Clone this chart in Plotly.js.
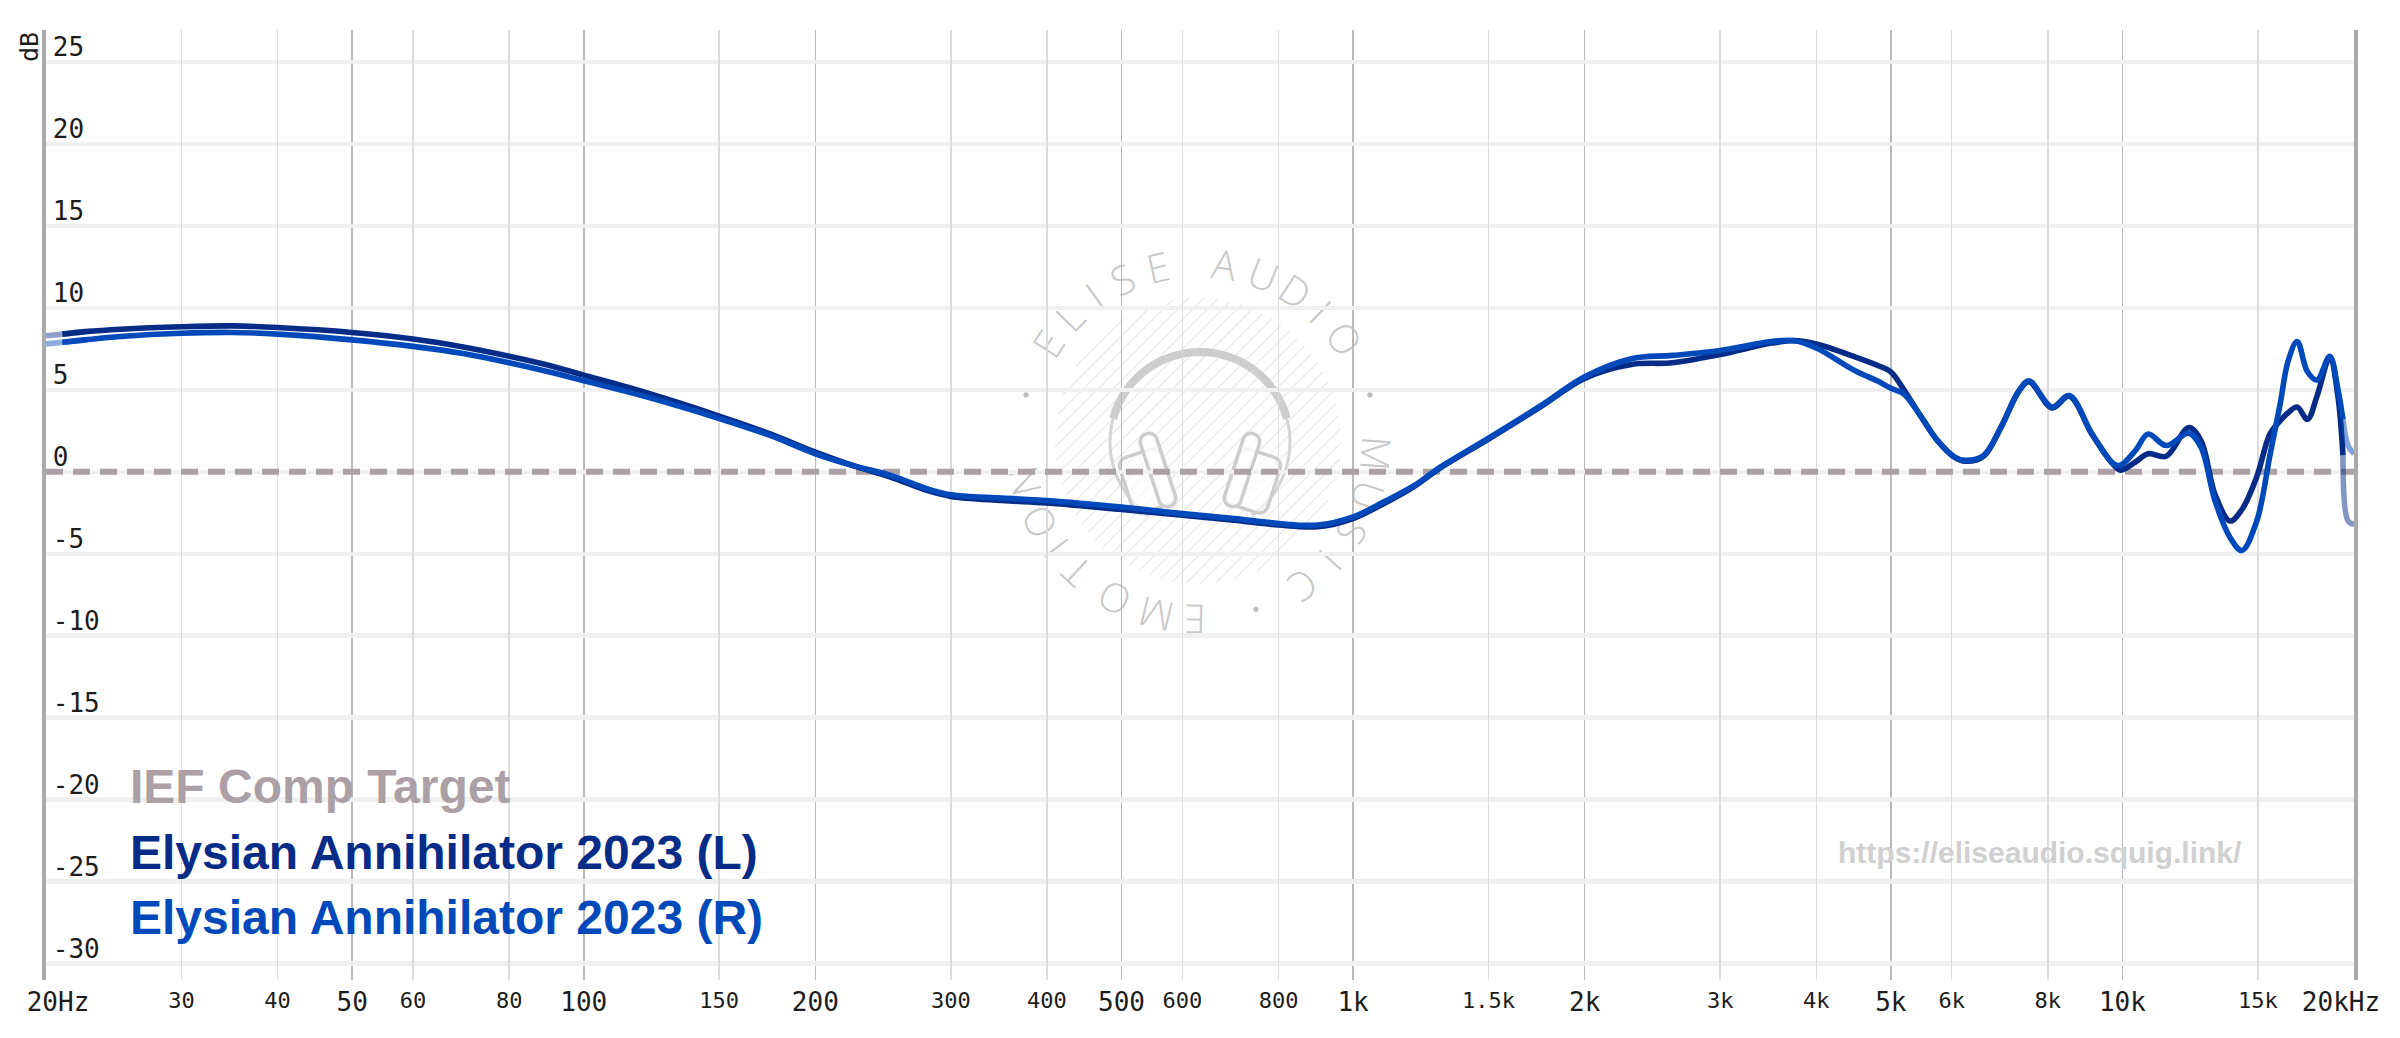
<!DOCTYPE html>
<html><head><meta charset="utf-8">
<script src="https://cdn.plot.ly/plotly-3.0.1.min.js"></script>
<style>html,body{margin:0;padding:0;background:#fff}#chart{width:2400px;height:1038px}</style>
</head><body><div id="chart"></div>
<script>
// ---------- data ----------
const freq = [20, 21, 22.5, 25, 30, 35, 40, 50, 60, 70, 80, 90, 100, 120, 150, 175, 200, 225, 250, 280, 300, 350, 400, 500, 600, 700, 800, 900, 1000, 1100, 1200, 1300, 1500, 1750, 2000, 2300, 2600, 3000, 3500, 3750, 4000, 4500, 4800, 5000, 5200, 5450, 5750, 6050, 6250, 6600, 6950, 7330, 7560, 8100, 8530, 9130, 9730, 9940, 10400, 10800, 11400, 12200, 12650, 13200, 13800, 14300, 14950, 15550, 16030, 16420, 16870, 17400, 17900, 18600, 19050, 19350, 19650, 20000];
const leftDb = [8.3, 8.4, 8.55, 8.7, 8.85, 8.9, 8.8, 8.5, 8.1, 7.6, 7.05, 6.5, 5.9, 4.85, 3.4, 2.3, 1.2, 0.35, -0.3, -1.15, -1.5, -1.75, -1.9, -2.3, -2.65, -2.95, -3.25, -3.35, -2.85, -1.9, -0.9, 0.25, 2.0, 3.95, 5.7, 6.55, 6.65, 7.15, 7.85, 8.0, 7.8, 7.0, 6.5, 6.1, 5.0, 3.5, 1.9, 0.9, 0.65, 0.95, 2.7, 4.9, 5.5, 3.9, 4.6, 2.3, 0.45, 0.1, 0.6, 1.1, 0.95, 2.7, 1.9, -1.4, -3.0, -2.3, -0.3, 2.3, 3.1, 3.6, 3.95, 3.2, 4.6, 6.95, 4.7, 1.0, -3.0, -3.2];
const rightDb = [7.8, 7.9, 8.05, 8.25, 8.45, 8.5, 8.4, 8.05, 7.65, 7.2, 6.65, 6.1, 5.55, 4.6, 3.25, 2.2, 1.1, 0.35, -0.2, -1.05, -1.4, -1.6, -1.75, -2.15, -2.55, -2.85, -3.15, -3.25, -2.75, -1.8, -0.85, 0.3, 2.05, 4.0, 5.8, 6.9, 7.1, 7.4, 7.95, 8.0, 7.55, 6.15, 5.55, 5.1, 4.75, 3.5, 1.9, 0.9, 0.7, 1.0, 2.7, 4.9, 5.55, 3.95, 4.65, 2.3, 0.5, 0.4, 1.3, 2.3, 1.6, 2.35, 1.5, -1.8, -4.0, -4.8, -3.0, 1.0, 4.1, 6.75, 7.95, 6.1, 5.6, 7.05, 5.1, 3.2, 1.6, 1.1];
const targetFreq = [20, 20000];
const targetDb = [0, 0];
const seriesNames = ['IEF Comp Target', 'Elysian Annihilator 2023 (L)', 'Elysian Annihilator 2023 (R)'];
const seriesColors = ['#aaa0a5', '#062c88', '#0049bb'];
const majorTicks = [50, 100, 200, 500, 1000, 2000, 5000, 10000];
const majorLabels = ['50', '100', '200', '500', '1k', '2k', '5k', '10k'];
const minorTicks = [30, 40, 60, 80, 150, 300, 400, 600, 800, 1500, 3000, 4000, 6000, 8000, 15000];
const minorLabels = ['30', '40', '60', '80', '150', '300', '400', '600', '800', '1.5k', '3k', '4k', '6k', '8k', '15k'];
const startTick = [20], startLabel = ['20Hz'];
const endTick = [20000], endLabel = ['20kHz'];
const yTicks = [-30, -25, -20, -15, -10, -5, 0, 5, 10, 15, 20, 25];
const yLabels = ['-30', '-25', '-20', '-15', '-10', '-5', '0', '5', '10', '15', '20', '25'];
const yTitle = 'dB';
const siteText = 'https://eliseaudio.squig.link/';
const ringText = ['E','L','I','S','E','A','U','D','I','O','M','U','S','I','C','E','M','O','T','I','O','N'];

// ---------- geometry helpers (pixel -> paper) ----------
const L0 = 46, R0 = 2354, T0 = 30, B0 = 980;
const PW = R0 - L0, PH = B0 - T0;
const px = x => (x - L0) / PW, py = y => (B0 - y) / PH;
function pathFrom(points, close) {
  return 'M' + points.map(p => px(p[0]).toFixed(5) + ',' + py(p[1]).toFixed(5)).join('L') + (close ? 'Z' : '');
}
function arcPts(cx, cy, r, a0, a1, step) {
  const pts = [];
  for (let a = a0; a <= a1 + 1e-9; a += step) { const t = a * Math.PI / 180; pts.push([cx + r * Math.sin(t), cy - r * Math.cos(t)]); }
  return pts;
}
function roundRect(cx, cy, w, h, r, phi) {
  const pts = [];
  const c = [[w/2-r, -h/2+r, -90, 0], [w/2-r, h/2-r, 0, 90], [-w/2+r, h/2-r, 90, 180], [-w/2+r, -h/2+r, 180, 270]];
  for (const [ux, uy, a0, a1] of c) for (let a = a0; a <= a1; a += 15) { const t = a * Math.PI / 180; pts.push([ux + r * Math.cos(t), uy + r * Math.sin(t)]); }
  const f = phi * Math.PI / 180;
  return pts.map(([u, v]) => [cx + u * Math.cos(f) - v * Math.sin(f), cy + u * Math.sin(f) + v * Math.cos(f)]);
}

// ---------- watermark ----------
const WM = '#c8c8c8';
const wcx = 1198, wcy = 441;
const shapes = [];
const HR = 143, HS = 10.5;
for (let d = -HR + 4; d < HR; d += HS) {
  const h = Math.sqrt(HR * HR - d * d), s = Math.SQRT1_2;
  const mx = wcx + d * s, my = wcy + d * s;
  shapes.push({type: 'path', xref: 'paper', yref: 'paper', layer: 'between',
    path: pathFrom([[mx - h * s, my + h * s], [mx + h * s, my - h * s]]), line: {color: '#ebebeb', width: 1.3}});
}
shapes.push({type: 'path', xref: 'paper', yref: 'paper', layer: 'between', path: pathFrom(arcPts(1200, 442, 90, -75, 75, 5)), line: {color: '#cdcdcd', width: 8}});
shapes.push({type: 'path', xref: 'paper', yref: 'paper', layer: 'between', path: pathFrom(arcPts(1200, 442, 90, 75, 145, 5)), line: {color: '#d4d4d4', width: 3}});
shapes.push({type: 'path', xref: 'paper', yref: 'paper', layer: 'between', path: pathFrom(arcPts(1200, 442, 90, -145, -75, 5)), line: {color: '#d4d4d4', width: 3}});
[[-1, -18], [1, 18]].forEach(([sgn, phi]) => {
  shapes.push({type: 'path', xref: 'paper', yref: 'paper', layer: 'between', path: pathFrom(roundRect(1200 + sgn * 53, 481, 44, 58, 9, phi), true), line: {color: '#cdcdcd', width: 3.5}, fillcolor: 'rgba(255,255,255,0.6)'});
  shapes.push({type: 'path', xref: 'paper', yref: 'paper', layer: 'between', path: pathFrom(roundRect(1200 + sgn * 42, 470, 17, 76, 8, phi), true), line: {color: '#cdcdcd', width: 3.5}, fillcolor: 'rgba(255,255,255,0.8)'});
});
const ringAngles = [-57, -46, -35.5, -25, -13, 8.5, 21.5, 33, 43.5, 55, 94, 108, 120.5, 132, 144, 181, 193.5, 208, 223, 233, 243, 257];
const RR = 176;
ringText.forEach((ch, i) => {
  const t = ringAngles[i] * Math.PI / 180;
  const x = wcx + RR * Math.sin(t), y = wcy - RR * Math.cos(t);
  shapes.push({type: 'rect', xref: 'paper', yref: 'paper', layer: 'between',
    x0: px(x) - 0.0003, x1: px(x) + 0.0003, y0: py(y) - 0.0007, y1: py(y) + 0.0007,
    line: {width: 0}, fillcolor: 'rgba(0,0,0,0)',
    label: {text: ch, textangle: ringAngles[i], textposition: 'middle center', padding: 0,
      font: {family: 'Open Sans', size: 40, weight: 300, color: WM}}});
});
[75, 161, 285].forEach(a => {
  const t = a * Math.PI / 180;
  const x = wcx + 178 * Math.sin(t), y = wcy - 178 * Math.cos(t);
  shapes.push({type: 'circle', xref: 'paper', yref: 'paper', layer: 'between',
    x0: px(x - 2.6), x1: px(x + 2.6), y0: py(y + 2.6), y1: py(y - 2.6), line: {width: 0}, fillcolor: '#bdbdbd'});
});

// ---------- traces ----------
const n = freq.length;
const lineW = 5.6;
function seg(y, a, b, color, op) {
  return {x: freq.slice(a, b), y: y.slice(a, b), type: 'scatter', mode: 'lines', opacity: op,
    line: {color: color, width: lineW, shape: 'spline', smoothing: 1}, hoverinfo: 'skip', xaxis: 'x', yaxis: 'y'};
}
const traces = [
  {x: targetFreq, y: targetDb, type: 'scatter', mode: 'lines', name: seriesNames[0],
   line: {color: seriesColors[0], width: 6, dash: '17px,10px'}, hoverinfo: 'skip'},
  seg(leftDb, 1, n - 2, seriesColors[1], 1),
  seg(leftDb, 0, 3, seriesColors[1], 0.45),
  seg(leftDb, n - 3, n, seriesColors[1], 0.5),
  seg(rightDb, 1, n - 2, seriesColors[2], 1),
  seg(rightDb, 0, 3, seriesColors[2], 0.45),
  seg(rightDb, n - 3, n, seriesColors[2], 0.5)
];

// ---------- layout ----------
const xr = [Math.log10(20) - 1e-5, Math.log10(20000) + 1e-5];
const yr = [-31, 26.95];
const mono = 'DejaVu Sans Mono';
const tickCol = '#1c1c1c';
const baseX = {type: 'log', range: xr, tickmode: 'array', ticks: '', zeroline: false, showline: false, fixedrange: true};
const annotations = [
  {xref: 'paper', yref: 'paper', x: px(29), y: py(47), text: yTitle, textangle: -90, showarrow: false,
   font: {family: mono, size: 25, color: tickCol}, xanchor: 'center', yanchor: 'middle'},
  {xref: 'paper', yref: 'paper', x: px(2040), y: py(853), text: siteText, showarrow: false,
   font: {family: 'Liberation Sans', size: 30, weight: 700, color: '#d0d0d0'}, xanchor: 'center', yanchor: 'middle'}
];
const legendY = [786, 853, 917];
seriesNames.forEach((nm, i) => annotations.push({xref: 'paper', yref: 'paper', x: px(128), y: py(legendY[i]), text: '<b>' + nm + '</b>',
  showarrow: false, xanchor: 'left', yanchor: 'middle', font: {family: 'Liberation Sans', size: 48, color: seriesColors[i]}}));

const layout = {
  width: 2400, height: 1038,
  margin: {l: L0, r: 2400 - R0, t: T0, b: 1038 - B0, pad: 0},
  paper_bgcolor: '#ffffff', plot_bgcolor: '#ffffff',
  showlegend: false, hovermode: false,
  xaxis: Object.assign({}, baseX, {tickvals: majorTicks, ticktext: majorLabels, showgrid: true, gridcolor: '#b9b9b9', gridwidth: 1.6,
    tickfont: {family: mono, size: 26, color: tickCol}, ticklabelstandoff: 4}),
  xaxis2: Object.assign({}, baseX, {overlaying: 'x', anchor: 'y', side: 'bottom', tickvals: minorTicks, ticktext: minorLabels,
    showgrid: true, gridcolor: '#dcdcdc', gridwidth: 1.5, tickfont: {family: mono, size: 22, color: tickCol}, ticklabelstandoff: 5}),
  xaxis3: Object.assign({}, baseX, {overlaying: 'x', anchor: 'y2', side: 'bottom', tickvals: startTick, ticktext: startLabel,
    showgrid: false, tickfont: {family: mono, size: 26, color: tickCol}, ticklabelstandoff: 4, ticklabelshift: 12}),
  xaxis4: Object.assign({}, baseX, {overlaying: 'x', anchor: 'y2', side: 'bottom', tickvals: endTick, ticktext: endLabel,
    showgrid: false, tickfont: {family: mono, size: 26, color: tickCol}, ticklabelstandoff: 4, ticklabelshift: -13}),
  yaxis: {range: yr, tickmode: 'array', tickvals: yTicks, ticktext: yLabels, ticks: '',
    ticklabelposition: 'inside', ticklabelshift: -15, ticklabelstandoff: 9,
    tickfont: {family: mono, size: 26, color: tickCol},
    showgrid: true, gridcolor: '#f0f0f0', gridwidth: 4.5, zeroline: false,
    showline: true, mirror: true, linecolor: '#ababab', linewidth: 4, fixedrange: true},
  yaxis2: {range: yr, overlaying: 'y', anchor: 'x3', showticklabels: false, showgrid: false, zeroline: false, showline: false, ticks: '', fixedrange: true},
  shapes: shapes,
  annotations: annotations
};
traces.push({x: [20, 20000], y: [null, null], xaxis: 'x2', yaxis: 'y', type: 'scatter', mode: 'lines', hoverinfo: 'skip'});
traces.push({x: [20, 20000], y: [null, null], xaxis: 'x3', yaxis: 'y2', type: 'scatter', mode: 'lines', hoverinfo: 'skip'});
traces.push({x: [20, 20000], y: [null, null], xaxis: 'x4', yaxis: 'y2', type: 'scatter', mode: 'lines', hoverinfo: 'skip'});

Plotly.newPlot('chart', traces, layout, {staticPlot: true, displayModeBar: false});
</script>
</body></html>
